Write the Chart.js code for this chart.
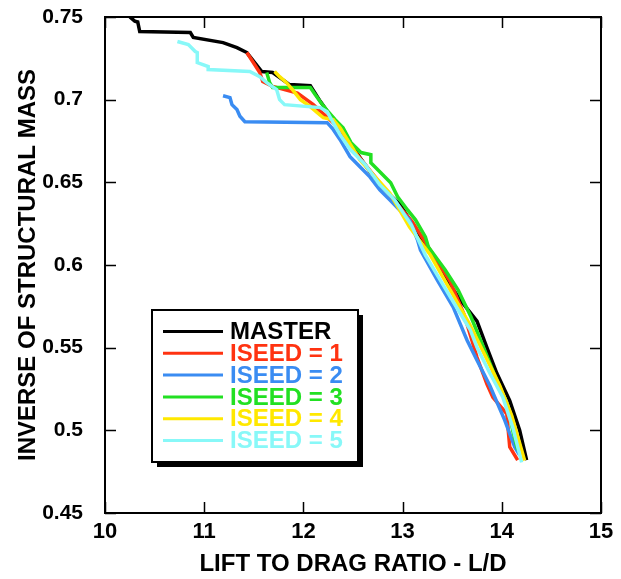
<!DOCTYPE html>
<html>
<head>
<meta charset="utf-8">
<script src="https://cdn.jsdelivr.net/npm/chart.js@4/dist/chart.umd.min.js"></script>
<style>
html,body{margin:0;padding:0;background:#fff;}
#wrap{width:621px;height:579px;position:relative;}
</style>
</head>
<body>
<div id="wrap"><canvas id="c" width="621" height="579"></canvas></div>
<script>
// ---- data ----
const seriesNames = ['MASTER', 'ISEED = 1', 'ISEED = 2', 'ISEED = 3', 'ISEED = 4', 'ISEED = 5'];
const seriesColors = ['#000000', '#ff3311', '#3a8cf2', '#22e022', '#ffe800', '#88f8f8'];

const xTickValues = [10, 11, 12, 13, 14, 15];
const yTickValues = [0.45, 0.5, 0.55, 0.6, 0.65, 0.7, 0.75];

const masterLD  = [10.25, 10.30, 10.33, 10.35, 10.86, 10.89, 11.19, 11.33, 11.43, 11.58, 11.69, 11.86, 12.07, 12.17, 12.37, 12.57, 12.77, 12.97, 13.18, 13.38, 13.58, 13.75, 13.85, 13.95, 14.08, 14.18, 14.25];
const masterInv = [0.750, 0.7475, 0.7470, 0.7412, 0.7406, 0.7376, 0.7345, 0.7315, 0.7285, 0.7170, 0.7164, 0.7091, 0.7085, 0.6990, 0.6820, 0.6650, 0.6480, 0.6370, 0.6170, 0.5970, 0.5790, 0.5660, 0.5500, 0.5345, 0.5180, 0.5000, 0.4820];

const seed1LD  = [11.43, 11.56, 11.59, 11.69, 11.94, 12.10, 12.30, 12.50, 12.70, 12.90, 13.10, 13.30, 13.48, 13.62, 13.75, 13.85, 13.91, 14.05, 14.08, 14.16];
const seed1Inv = [0.7285, 0.7164, 0.7110, 0.7080, 0.7040, 0.6970, 0.6860, 0.6700, 0.6550, 0.6400, 0.6260, 0.6070, 0.5900, 0.5700, 0.5442, 0.5280, 0.5200, 0.5100, 0.4900, 0.4820];

const seed2LD  = [11.19, 11.26, 11.28, 11.33, 11.36, 11.41, 12.24, 12.30, 12.37, 12.47, 12.57, 12.67, 12.77, 12.87, 12.97, 13.07, 13.15, 13.18, 13.35, 13.51, 13.65, 13.75, 13.88, 14.03, 14.13, 14.18];
const seed2Inv = [0.7024, 0.7012, 0.6970, 0.6940, 0.6900, 0.6867, 0.6861, 0.6820, 0.6758, 0.6655, 0.6594, 0.6533, 0.6455, 0.6394, 0.6333, 0.6273, 0.6152, 0.6091, 0.5909, 0.5745, 0.5545, 0.5424, 0.5270, 0.5060, 0.4900, 0.4850];

const seed3LD  = [11.63, 11.66, 11.69, 12.07, 12.12, 12.18, 12.25, 12.32, 12.40, 12.48, 12.58, 12.68, 12.68, 12.78, 12.88, 12.95, 13.05, 13.13, 13.23, 13.26, 13.43, 13.56, 13.69, 13.81, 13.93, 14.06, 14.11, 14.16];
const seed3Inv = [0.7164, 0.7103, 0.7073, 0.7073, 0.7030, 0.6980, 0.6927, 0.6879, 0.6830, 0.6740, 0.6680, 0.6667, 0.6618, 0.6558, 0.6497, 0.6412, 0.6333, 0.6273, 0.6170, 0.6109, 0.5970, 0.5848, 0.5685, 0.5510, 0.5330, 0.5150, 0.5000, 0.4880];

const seed4LD  = [11.71, 11.76, 11.83, 11.89, 11.97, 12.07, 12.14, 12.20, 12.30, 12.37, 12.57, 12.87, 13.07, 13.28, 13.48, 13.68, 13.83, 13.98, 14.10, 14.23];
const seed4Inv = [0.7170, 0.7139, 0.7103, 0.7061, 0.7000, 0.6958, 0.6921, 0.6891, 0.6879, 0.6830, 0.6636, 0.6436, 0.6230, 0.6060, 0.5850, 0.5636, 0.5455, 0.5270, 0.5090, 0.4818];

const seed5LD  = [10.73, 10.84, 10.91, 10.93, 10.93, 11.04, 11.04, 11.46, 11.56, 11.63, 11.73, 11.76, 11.81, 12.17, 12.24, 12.30, 12.37, 12.47, 12.62, 12.77, 12.92, 13.09, 13.23, 13.38, 13.53, 13.68, 13.75, 13.88, 14.01, 14.11, 14.20];
const seed5Inv = [0.7352, 0.7333, 0.7291, 0.7285, 0.7224, 0.7200, 0.7182, 0.7170, 0.7139, 0.7103, 0.7061, 0.7000, 0.6970, 0.6952, 0.6927, 0.6861, 0.6788, 0.6700, 0.6610, 0.6485, 0.6394, 0.6240, 0.6060, 0.5909, 0.5758, 0.5610, 0.5503, 0.5345, 0.5200, 0.5018, 0.4806];

// ---- build chart ----
const xsList = [masterLD, seed1LD, seed2LD, seed3LD, seed4LD, seed5LD];
const ysList = [masterInv, seed1Inv, seed2Inv, seed3Inv, seed4Inv, seed5Inv];
const drawOrder = [5, 4, 3, 2, 1, 0]; // lower = drawn on top (cyan on top, black at bottom)

const datasets = seriesNames.map((name, i) => ({
  label: name,
  data: xsList[i].map((x, k) => ({x: x, y: ysList[i][k]})),
  borderColor: seriesColors[i],
  backgroundColor: seriesColors[i],
  borderWidth: 3.5,
  pointRadius: 0,
  showLine: true,
  tension: 0,
  fill: false,
  order: drawOrder[i],
  borderJoinStyle: 'miter'
}));

const FONT = '"Liberation Sans", Arial, Helvetica, sans-serif';

const framePlugin = {
  id: 'frame',
  afterDraw(chart) {
    const ctx = chart.ctx;
    const a = chart.chartArea;
    const xs = chart.scales.x, ys = chart.scales.y;
    ctx.save();
    ctx.strokeStyle = '#000';
    ctx.lineWidth = 1.5;
    const TL = 11;
    ctx.beginPath();
    xs.ticks.forEach(t => {
      const px = Math.round(xs.getPixelForValue(t.value)) + 0.5;
      ctx.moveTo(px, a.bottom); ctx.lineTo(px, a.bottom - TL);
      ctx.moveTo(px, a.top); ctx.lineTo(px, a.top + TL);
    });
    ys.ticks.forEach(t => {
      const py = Math.round(ys.getPixelForValue(t.value)) + 0.5;
      ctx.moveTo(a.left, py); ctx.lineTo(a.left + TL, py);
      ctx.moveTo(a.right, py); ctx.lineTo(a.right - TL, py);
    });
    ctx.stroke();
    ctx.lineWidth = 2;
    ctx.strokeRect(a.left, a.top, a.right - a.left, a.bottom - a.top);

    const bx = 152, by = 310, bw = 206, bh = 152;
    ctx.fillStyle = '#000';
    ctx.fillRect(bx + 5, by + 5, bw, bh);
    ctx.fillStyle = '#fff';
    ctx.fillRect(bx, by, bw, bh);
    ctx.lineWidth = 2;
    ctx.strokeStyle = '#000';
    ctx.strokeRect(bx, by, bw, bh);
    ctx.font = 'bold 24px ' + FONT;
    ctx.textBaseline = 'middle';
    ctx.textAlign = 'left';
    seriesNames.forEach((name, i) => {
      const ry = 331.5 + i * 21.8;
      ctx.strokeStyle = seriesColors[i];
      ctx.lineWidth = 3;
      ctx.beginPath();
      ctx.moveTo(163, ry); ctx.lineTo(223, ry);
      ctx.stroke();
      ctx.fillStyle = seriesColors[i];
      ctx.fillText(name, 230, ry + 1);
    });
    ctx.restore();
  }
};

new Chart(document.getElementById('c'), {
  type: 'scatter',
  data: { datasets },
  options: {
    responsive: false,
    animation: false,
    events: [],
    layout: { padding: { top: 17, right: 20, left: 0, bottom: 0 } },
    plugins: { legend: { display: false }, tooltip: { enabled: false } },
    scales: {
      x: {
        type: 'linear',
        min: 10, max: 15,
        afterBuildTicks(scale) { scale.ticks = xTickValues.map(v => ({value: v})); },
        afterFit(scale) { scale.height = 66; scale.paddingLeft = 0; scale.paddingRight = 0; },
        grid: { display: false, drawTicks: false },
        border: { display: false },
        ticks: {
          color: '#000', padding: 6, autoSkip: false, maxRotation: 0,
          font: { family: FONT, size: 22, weight: 'bold' },
          callback: v => String(v)
        },
        title: {
          display: true, text: 'LIFT TO DRAG RATIO - L/D', color: '#000',
          font: { family: FONT, size: 24, weight: 'bold' },
          padding: { top: 0, bottom: 0 }
        }
      },
      y: {
        type: 'linear',
        min: 0.45, max: 0.75,
        afterBuildTicks(scale) { scale.ticks = yTickValues.map(v => ({value: v})); },
        afterFit(scale) { scale.width = 105; scale.paddingTop = 0; scale.paddingBottom = 0; },
        grid: { display: false, drawTicks: false },
        border: { display: false },
        ticks: {
          color: '#000', padding: 22, autoSkip: false,
          font: { family: FONT, size: 21, weight: 'bold' },
          callback: v => String(Number(Number(v).toFixed(2)))
        },
        title: {
          display: true, text: 'INVERSE OF STRUCTURAL MASS', color: '#000',
          font: { family: FONT, size: 24, weight: 'bold' },
          padding: { top: 14, bottom: 0 }
        }
      }
    }
  },
  plugins: [framePlugin]
});
</script>
</body>
</html>
